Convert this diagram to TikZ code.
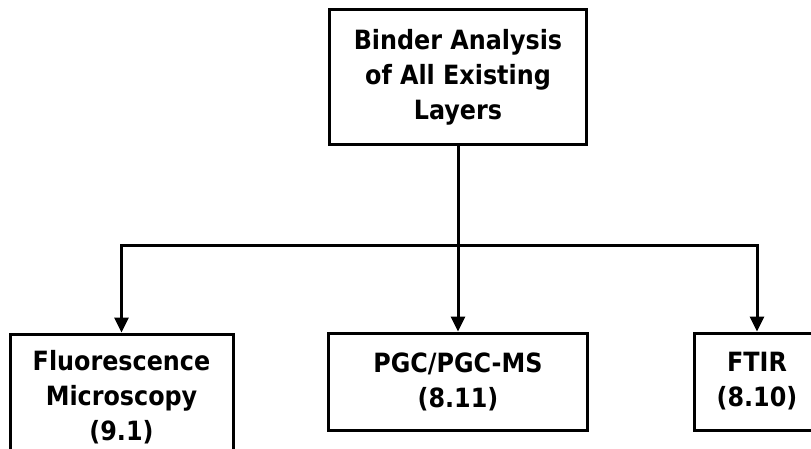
\documentclass[tikz,border=0pt]{standalone}
\usepackage{fontspec}
\setmainfont{DejaVu Sans Condensed}
\usetikzlibrary{arrows.meta}
\begin{document}
\begin{tikzpicture}[x=1pt,y=-1pt,
  box/.style={draw, line width=3pt, rectangle, inner sep=0pt, align=center,
    font=\bfseries\fontsize{26.5}{35}\selectfont},
  conn/.style={line width=3pt, -{Triangle[length=15pt,width=14pt]}}]
\useasboundingbox (0,0) rectangle (811,449);
\clip (0,0) rectangle (811,449);
\node[box, minimum width=257pt, minimum height=135pt] (top) at (458,77.5) {Binder Analysis\\of All Existing\\Layers};
\node[box, minimum width=223pt, minimum height=126pt] (left) at (121.5,397) {Fluorescence\\Microscopy\\(9.1)};
\node[box, minimum width=259pt, minimum height=97pt] (mid) at (458,381.5) {PGC/PGC-MS\\(8.11)};
\node[box, minimum width=126pt, minimum height=97pt] (right) at (757,381.5) {FTIR\\(8.10)};
\coordinate (j) at (458,245);
\draw[conn] (top.south) -- (mid.north);
\draw[conn] (j) -| (left.north);
\draw[conn] (j) -| (right.north);
\end{tikzpicture}
\end{document}
